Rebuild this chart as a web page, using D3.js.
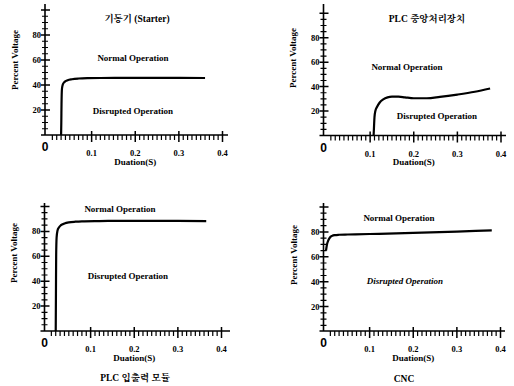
<!DOCTYPE html>
<html><head><meta charset="utf-8">
<script src="https://cdn.jsdelivr.net/npm/d3@7"></script>
<style>
body{margin:0;background:#fff;}
svg{display:block;}
</style></head>
<body>
<svg id="c" width="514" height="386"></svg>
<script>
// ---- data ----
const panelTitles = ["기동기 (Starter)", "PLC 중앙처리장치", "PLC 입출력 모듈", "CNC"];
const xAxisLabel = "Duation(S)";
const yAxisLabel = "Percent Voltage";
const normalLabel = "Normal Operation";
const disruptedLabel = "Disrupted Operation";
const xMajorTicks = [0.1, 0.2, 0.3, 0.4];
const xTickLabels = ["0.1", "0.2", "0.3", "0.4"];
const yMajorTicks = [20, 40, 60, 80, 100];
const yTickLabels = ["20", "40", "60", "80", ""];

const starterT = [0.030, 0.0305, 0.031, 0.032, 0.034, 0.038, 0.045, 0.055, 0.07, 0.09, 0.12, 0.2, 0.3, 0.36];
const starterV = [0, 10, 25, 37, 40.5, 42.5, 43.8, 44.6, 45.2, 45.5, 45.6, 45.7, 45.7, 45.6];

const cpuT = [0.108, 0.109, 0.110, 0.112, 0.116, 0.122, 0.13, 0.14, 0.15, 0.165, 0.18, 0.2, 0.23, 0.26, 0.3, 0.34, 0.375];
const cpuV = [0, 8, 15, 20, 23.5, 27, 29.5, 31.2, 31.8, 31.8, 31.2, 30.5, 30.5, 31.6, 33.5, 35.8, 38.5];

const ioT = [0.020, 0.0205, 0.021, 0.022, 0.024, 0.027, 0.032, 0.04, 0.05, 0.065, 0.08, 0.12, 0.2, 0.3, 0.365];
const ioV = [0, 30, 60, 75, 80.5, 83, 85, 86.3, 87.2, 87.8, 88.1, 88.3, 88.5, 88.5, 88.3];

const cncT = [0.0, 0.002, 0.005, 0.009, 0.014, 0.02, 0.03, 0.05, 0.1, 0.2, 0.3, 0.38];
const cncV = [65, 69.5, 73, 75.5, 76.8, 77.4, 77.7, 77.9, 78.3, 79.2, 80.3, 81.2];

const seriesT = [starterT, cpuT, ioT, cncT];
const seriesV = [starterV, cpuV, ioV, cncV];

// ---- layout ----
const SERIF = "'Liberation Serif','Times New Roman','Noto Serif CJK KR','Noto Sans CJK KR',serif";
const layouts = [
  {ax:45, ay:135, x0:48, x4:222.5, yZero:135, y100:10, top:4, xEnd:228,
   title:[137,21.5], normal:[133,61], disr:[133,114], ylab:[15,60], italic:false},
  {ax:323.5, ay:135.5, x0:326.5, x4:501, yZero:135.5, y100:13.3, top:4, xEnd:506,
   title:[427,22], normal:[407,70], disr:[437,119], ylab:[293,58], italic:false},
  {ax:44.5, ay:331, x0:47, x4:221.5, yZero:331, y100:206.5, top:203, xEnd:230,
   title:[135,381], normal:[120,212], disr:[128,279], ylab:[13.5,253], italic:false},
  {ax:323.5, ay:331, x0:326, x4:500.5, yZero:331.5, y100:207, top:203, xEnd:505,
   title:[404,382], normal:[399,221], disr:[405,284], ylab:[294,255], italic:true}
];

const svg = d3.select("#c");

function txt(g, x, y, s, size, opts = {}) {
  return g.append("text").attr("x", x).attr("y", y).text(s)
    .attr("text-anchor", opts.anchor || "middle")
    .attr("font-size", size)
    .attr("font-weight", opts.weight || "bold")
    .attr("font-style", opts.italic ? "italic" : "normal")
    .attr("font-family", opts.family || SERIF)
    .attr("fill", "#000");
}

layouts.forEach((L, i) => {
  const g = svg.append("g");
  const x = d3.scaleLinear().domain([0, 0.4]).range([L.x0, L.x4]);
  const y = d3.scaleLinear().domain([0, 100]).range([L.yZero, L.y100]);

  const yMinor = d3.range(5, 101, 5).filter(v => v % 20 !== 0);
  const xMinor = d3.range(1, 41).filter(k => k % 10 !== 0).map(k => k / 100);

  let dMinor = "";
  yMinor.forEach(v => { dMinor += `M${L.ax - 3},${y(v).toFixed(2)}H${L.ax + 3}`; });
  xMinor.forEach(v => { dMinor += `M${x(v).toFixed(2)},${L.ay}V${L.ay + 5}`; });
  g.append("path").attr("d", dMinor).attr("stroke", "#000").attr("stroke-width", 1.2).attr("fill", "none");

  let dMajor = "";
  yMajorTicks.forEach(v => { dMajor += `M${L.ax - 4},${y(v).toFixed(2)}H${L.ax + 5}`; });
  xMajorTicks.forEach(v => { dMajor += `M${x(v).toFixed(2)},${L.ay - 4}V${L.ay + 7}`; });
  g.append("path").attr("d", dMajor).attr("stroke", "#000").attr("stroke-width", 1.5).attr("fill", "none");

  g.append("path").attr("d", `M${L.ax},${L.top}V${L.ay}M${L.ax - 4},${L.ay}H${L.xEnd}`)
    .attr("stroke", "#000").attr("stroke-width", 1.6).attr("fill", "none");

  yMajorTicks.forEach((v, k) => {
    if (yTickLabels[k]) txt(g, L.ax - 4, y(v) + 3, yTickLabels[k], 8.5, {anchor: "end"});
  });
  xMajorTicks.forEach((v, k) => txt(g, x(v), L.ay + 21, xTickLabels[k], 8.5));
  txt(g, L.ax, L.ay + 16, "0", 12, {family: "'Liberation Sans',Arial,sans-serif"});

  txt(g, (L.x0 + L.x4) / 2, L.ay + 29.5, xAxisLabel, 9);

  g.append("text").attr("transform", `translate(${L.ylab[0] + 3},${L.ylab[1]}) rotate(-90)`)
    .attr("text-anchor", "middle").attr("font-size", 9).attr("font-weight", "bold")
    .attr("font-family", SERIF).text(yAxisLabel);

  txt(g, L.normal[0], L.normal[1], normalLabel, 9);
  txt(g, L.disr[0], L.disr[1], disruptedLabel, 9, {italic: L.italic});
  txt(g, L.title[0], L.title[1], panelTitles[i], 9.5);

  const pts = seriesT[i].map((t, k) => [t, seriesV[i][k]]);
  const line = d3.line().x(d => x(d[0])).y(d => y(d[1])).curve(d3.curveMonotoneX);
  g.append("path").attr("d", line(pts)).attr("fill", "none")
    .attr("stroke", "#000").attr("stroke-width", 2.2).attr("stroke-linejoin", "round");
});
</script>
</body></html>
